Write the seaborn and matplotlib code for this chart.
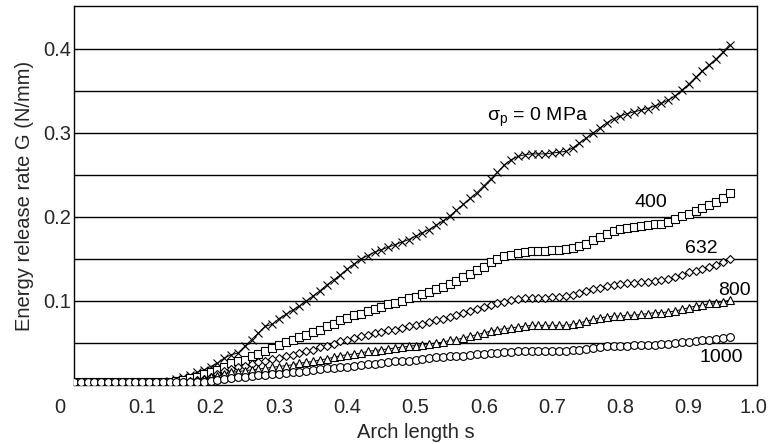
import numpy as np
import pandas as pd
import matplotlib
matplotlib.use("Agg")
import matplotlib.pyplot as plt
import matplotlib.transforms as mtransforms
import seaborn as sns

# ---------------- data ----------------
s_values = [round(0.01 * i, 2) for i in range(97)]  # arch length 0.00 .. 0.96

g_0 = [0.003] * 13 + [
    0.004, 0.005, 0.007, 0.009, 0.012, 0.015, 0.018, 0.022, 0.026, 0.032,
    0.036, 0.038, 0.046, 0.054, 0.062, 0.070, 0.072, 0.079, 0.084, 0.089,
    0.094, 0.100, 0.106, 0.112, 0.119, 0.125, 0.131, 0.138, 0.144, 0.150,
    0.154, 0.158, 0.161, 0.164, 0.167, 0.170, 0.173, 0.177, 0.181, 0.185,
    0.190, 0.195, 0.201, 0.208, 0.215, 0.222, 0.229, 0.237, 0.245, 0.253,
    0.262, 0.268, 0.272, 0.274, 0.275, 0.275, 0.275, 0.276, 0.277, 0.278,
    0.282, 0.288, 0.294, 0.300, 0.306, 0.312, 0.317, 0.320, 0.323, 0.325,
    0.327, 0.329, 0.332, 0.335, 0.339, 0.344, 0.351, 0.358, 0.366, 0.374,
    0.381, 0.388, 0.396, 0.405]

g_400 = [0.003] * 14 + [
    0.004, 0.005, 0.006, 0.008, 0.010, 0.013, 0.016, 0.018, 0.022, 0.026,
    0.028, 0.030, 0.034, 0.037, 0.040, 0.044, 0.048, 0.051, 0.054, 0.057,
    0.060, 0.063, 0.066, 0.070, 0.073, 0.077, 0.080, 0.083, 0.085, 0.088,
    0.091, 0.093, 0.096, 0.098, 0.100, 0.103, 0.105, 0.108, 0.111, 0.114,
    0.117, 0.120, 0.124, 0.128, 0.132, 0.137, 0.141, 0.146, 0.150, 0.153,
    0.155, 0.157, 0.158, 0.159, 0.160, 0.160, 0.161, 0.161, 0.162, 0.163,
    0.165, 0.168, 0.172, 0.176, 0.180, 0.183, 0.186, 0.187, 0.188, 0.189,
    0.190, 0.191, 0.192, 0.194, 0.197, 0.201, 0.204, 0.207, 0.211, 0.214,
    0.218, 0.223, 0.228]

g_632 = [0.003] * 15 + [
    0.004, 0.004, 0.005, 0.006, 0.007, 0.010, 0.013, 0.017, 0.019, 0.021,
    0.023, 0.025, 0.027, 0.029, 0.031, 0.032, 0.034, 0.036, 0.038, 0.040,
    0.042, 0.045, 0.047, 0.049, 0.052, 0.054, 0.056, 0.058, 0.060, 0.062,
    0.063, 0.065, 0.066, 0.068, 0.070, 0.071, 0.073, 0.075, 0.077, 0.079,
    0.081, 0.083, 0.086, 0.088, 0.091, 0.093, 0.095, 0.097, 0.099, 0.101,
    0.102, 0.103, 0.104, 0.104, 0.104, 0.105, 0.105, 0.106, 0.107, 0.109,
    0.112, 0.114, 0.116, 0.118, 0.119, 0.120, 0.121, 0.121, 0.122, 0.123,
    0.124, 0.125, 0.126, 0.128, 0.131, 0.134, 0.136, 0.138, 0.141, 0.143,
    0.146, 0.150]

g_800 = [0.003] * 16 + [
    0.004, 0.004, 0.005, 0.007, 0.009, 0.011, 0.013, 0.015, 0.016,
    0.017, 0.018, 0.019, 0.020, 0.021, 0.022, 0.023, 0.024, 0.026, 0.027,
    0.028, 0.030, 0.031, 0.033, 0.035, 0.036, 0.037, 0.038, 0.040, 0.041,
    0.042, 0.043, 0.044, 0.045, 0.046, 0.047, 0.048, 0.049, 0.050, 0.051,
    0.053, 0.054, 0.056, 0.058, 0.060, 0.062, 0.064, 0.066, 0.067, 0.068,
    0.069, 0.070, 0.071, 0.071, 0.071, 0.071, 0.071, 0.071, 0.072, 0.074,
    0.076, 0.078, 0.080, 0.081, 0.082, 0.082, 0.083, 0.083, 0.084, 0.085,
    0.086, 0.086, 0.087, 0.088, 0.090, 0.092, 0.094, 0.095, 0.097, 0.098,
    0.099, 0.101]

g_1000 = [0.003] * 18 + [
    0.004, 0.004, 0.005, 0.006, 0.007, 0.008, 0.009, 0.010, 0.011,
    0.012, 0.012, 0.013, 0.013, 0.014, 0.015, 0.016, 0.017, 0.018, 0.019,
    0.020, 0.020, 0.021, 0.022, 0.023, 0.024, 0.025, 0.025, 0.026, 0.027,
    0.028, 0.029, 0.029, 0.030, 0.031, 0.032, 0.033, 0.033, 0.034, 0.035,
    0.035, 0.036, 0.037, 0.037, 0.038, 0.038, 0.039, 0.039, 0.040, 0.040,
    0.040, 0.040, 0.041, 0.041, 0.041, 0.041, 0.042, 0.042, 0.043, 0.044,
    0.045, 0.046, 0.047, 0.047, 0.047, 0.048, 0.048, 0.048, 0.048, 0.049,
    0.049, 0.050, 0.051, 0.051, 0.052, 0.053, 0.054, 0.055, 0.056, 0.057]

series_names = ["0", "400", "632", "800", "1000"]
series_values = [g_0, g_400, g_632, g_800, g_1000]

x_tick_values = [0, 0.1, 0.2, 0.3, 0.4, 0.5, 0.6, 0.7, 0.8, 0.9, 1.0]
x_tick_labels = ["0", "0.1", "0.2", "0.3", "0.4", "0.5", "0.6", "0.7", "0.8", "0.9", "1.0"]
y_tick_values = [0.1, 0.2, 0.3, 0.4]
y_tick_labels = ["0.1", "0.2", "0.3", "0.4"]
y_grid_values = [0.05, 0.10, 0.15, 0.20, 0.25, 0.30, 0.35, 0.40]

annotations = [
    (0.605, 0.319, "σ$_\\mathrm{p}$ = 0 MPa", "left"),
    (0.845, 0.217, "400", "center"),
    (0.919, 0.163, "632", "center"),
    (0.967, 0.113, "800", "center"),
    (0.948, 0.033, "1000", "center"),
]

# ---------------- styling ----------------
sns.set_theme(style="white")
plt.rcParams["font.family"] = ["Liberation Sans", "DejaVu Sans"]
plt.rcParams["mathtext.fontset"] = "custom"
plt.rcParams["mathtext.rm"] = "Liberation Sans"
plt.rcParams["mathtext.it"] = "Liberation Sans:italic"

marker_styles = {"0": "x", "400": "s", "632": "D", "800": "^", "1000": "o"}
marker_sizes = {"0": 5.5, "400": 5.6, "632": 4.2, "800": 5.4, "1000": 5.6}

fig = plt.figure(figsize=(7.69, 4.44), dpi=100)
ax = fig.add_axes([74 / 769, 59 / 444, 683 / 769, 379 / 444])

for yv in y_grid_values:
    ax.axhline(yv, color="black", lw=1.0, zorder=1)

df = pd.DataFrame({
    "s": np.tile(s_values, len(series_names)),
    "G": np.concatenate(series_values),
    "series": np.repeat(series_names, len(s_values)),
})

for name in series_names:
    sub = df[df["series"] == name]
    sns.lineplot(data=sub, x="s", y="G", ax=ax, color="black", lw=0.7,
                 marker=marker_styles[name], markersize=marker_sizes[name],
                 markerfacecolor="white" if name != "0" else "black",
                 markeredgecolor="black", markeredgewidth=0.8,
                 zorder=3, legend=False, estimator=None, sort=False)

ax.set_xlim(0, 1.0)
ax.set_ylim(0, 0.451)

ax.set_xticks(x_tick_values)
ax.set_xticklabels(x_tick_labels, fontsize=14.5)
ax.set_yticks(y_tick_values)
ax.set_yticklabels(y_tick_labels, fontsize=14.5)
ax.set_yticks(y_grid_values, minor=True)
ax.tick_params(axis="x", which="both", length=0, pad=9)
ax.tick_params(axis="y", which="major", length=0, pad=2)
ax.tick_params(axis="y", which="minor", length=5, width=1, color="black", direction="out")

# shift the origin label left and the end label slightly in, as in the reference
xlabels = ax.get_xticklabels()
xlabels[0].set_transform(xlabels[0].get_transform() +
                         mtransforms.ScaledTranslation(-14 / 100, 0, fig.dpi_scale_trans))
xlabels[-1].set_transform(xlabels[-1].get_transform() +
                          mtransforms.ScaledTranslation(-4 / 100, 0, fig.dpi_scale_trans))

for sp in ax.spines.values():
    sp.set_color("black")
    sp.set_linewidth(1.0)
    sp.set_visible(True)

ax.set_xlabel("Arch length s", fontsize=14.5, labelpad=5)
ax.set_ylabel("Energy release rate G (N/mm)", fontsize=14.5, labelpad=7)

for x, y, txt, ha in annotations:
    ax.text(x, y, txt, ha=ha, va="center", fontsize=14, color="black", zorder=4)

fig.savefig("out.png", dpi=100, facecolor="white")
